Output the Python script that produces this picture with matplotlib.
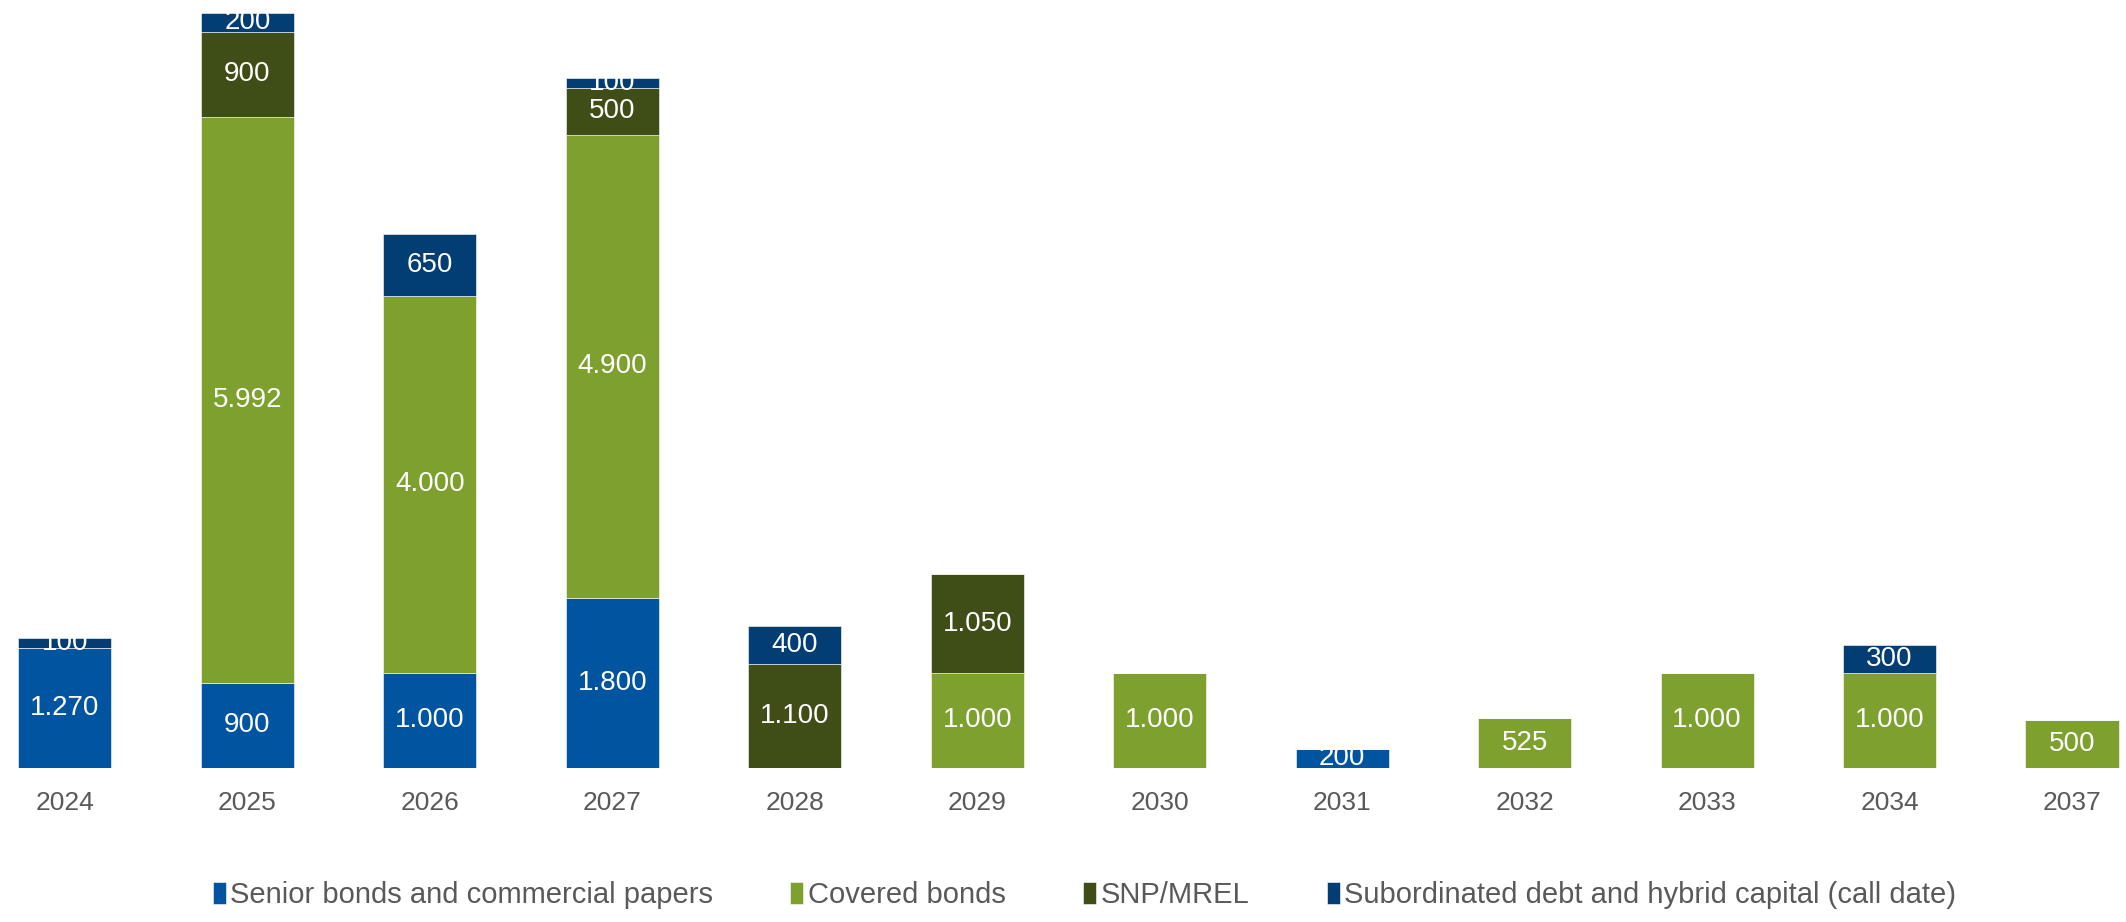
import matplotlib.pyplot as plt
import numpy as np

plt.rcParams['font.family'] = ['Liberation Sans', 'DejaVu Sans']

anos = ['2024', '2025', '2026', '2027', '2028', '2029', '2030', '2031', '2032', '2033', '2034', '2037']
senior = [1270, 900, 1000, 1800, 0, 0, 0, 200, 0, 0, 0, 0]
covered = [0, 5992, 4000, 4900, 0, 1000, 1000, 0, 525, 1000, 1000, 500]
snp = [0, 900, 0, 500, 1100, 1050, 0, 0, 0, 0, 0, 0]
subord = [100, 200, 650, 100, 400, 0, 0, 0, 0, 0, 300, 0]

series = [
    ('Senior bonds and commercial papers', senior, '#0054A0'),
    ('Covered bonds', covered, '#7EA02E'),
    ('SNP/MREL', snp, '#3E4E16'),
    ('Subordinated debt and hybrid capital (call date)', subord, '#023E73'),
]

fig = plt.figure(figsize=(21.26, 9.22), dpi=100)
ax = fig.add_axes([0, 0.1674, 1, 0.8193])

x = np.arange(len(anos))
base = np.zeros(len(anos))
for nome, vals, cor in series:
    vals = np.array(vals, dtype=float)
    ax.bar(x, vals, 0.51, bottom=base, color=cor, label=nome,
           edgecolor='white', linewidth=0.4)
    # rótulos de valor no meio de cada segmento
    for i, v in enumerate(vals):
        if v > 0:
            txt = f'{int(v):,}'.replace(',', '.')
            ax.text(x[i], base[i] + v / 2, txt, ha='center', va='center',
                    color='white', fontsize=20)
    base += vals

ax.set_xlim(-0.356, 11.296)
ax.set_ylim(0, 8000)
ax.set_xticks(x)
ax.set_xticklabels(anos, fontsize=19, color='#595959')
ax.tick_params(axis='x', length=0, pad=17)
ax.set_yticks([])
for s in ax.spines.values():
    s.set_visible(False)

fig.legend(loc='center', bbox_to_anchor=(0.510, 0.029), ncol=4, frameon=False,
           fontsize=21, labelcolor='#595959', handlelength=0.45, handleheight=0.8,
           handletextpad=0.15, columnspacing=2.65)

fig.savefig('out.png', dpi=100)
